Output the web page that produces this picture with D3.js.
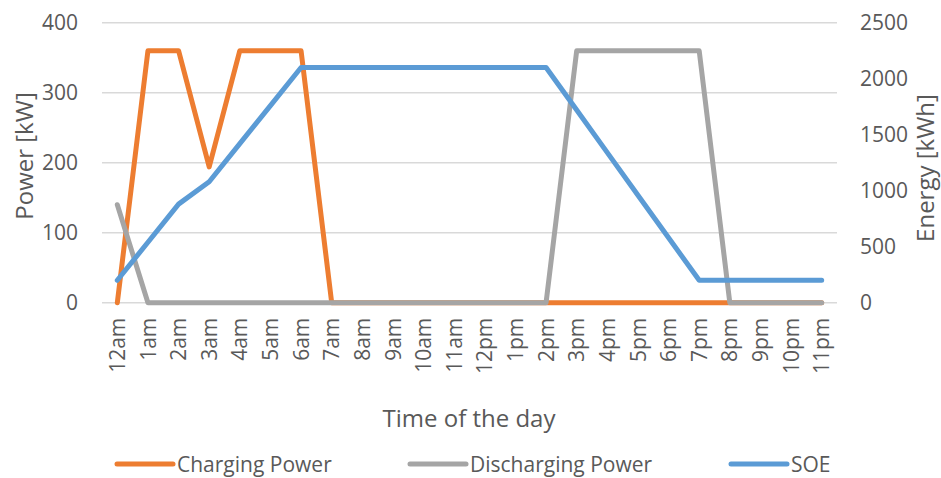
<!DOCTYPE html>
<html>
<head>
<meta charset="utf-8">
<script src="https://cdn.jsdelivr.net/npm/d3@7/dist/d3.min.js"></script>
<style>
  html, body { margin: 0; padding: 0; background: #fff; }
  svg { display: block; font-family: "Open Sans", "Noto Sans", sans-serif; }
</style>
</head>
<body>
<svg id="chart" width="941" height="478"></svg>
<script>
// Hourly battery schedule over one day
const hours = ["12am","1am","2am","3am","4am","5am","6am","7am","8am","9am","10am","11am",
               "12pm","1pm","2pm","3pm","4pm","5pm","6pm","7pm","8pm","9pm","10pm","11pm"];

// Power in kW (left axis)
const chargingPower    = [0,360,360,194,360,360,360,0,0,0,0,0,0,0,0,0,0,0,0,0,0,0,0,0];
const dischargingPower = [140,0,0,0,0,0,0,0,0,0,0,0,0,0,0,360,360,360,360,360,0,0,0,0];

// State of energy in kWh (right axis)
const soe = [200,540,880,1080,1420,1760,2100,2100,2100,2100,2100,2100,
             2100,2100,2100,1720,1340,960,580,200,200,200,200,200];

const powerTicks  = [0,100,200,300,400];
const energyTicks = [0,500,1000,1500,2000,2500];

const seriesInfo = [
  { name: "Charging Power",    values: chargingPower,    color: "#ED7D31", axis: "left"  },
  { name: "Discharging Power", values: dischargingPower, color: "#A5A5A5", axis: "left"  },
  { name: "SOE",               values: soe,              color: "#5B9BD5", axis: "right" }
];

const svg = d3.select("#chart");
const plot = { left: 102, right: 837, top: 22.7, bottom: 302.7 };
const textColor = "#595959";

const x = d3.scaleBand().domain(hours).range([plot.left, plot.right]);
const xc = d => x(d) + x.bandwidth() / 2;
const yPower  = d3.scaleLinear().domain([0, 400]).range([plot.bottom, plot.top]);
const yEnergy = d3.scaleLinear().domain([0, 2500]).range([plot.bottom, plot.top]);

// Horizontal gridlines
svg.append("g")
  .selectAll("line")
  .data(powerTicks)
  .join("line")
  .attr("x1", plot.left).attr("x2", plot.right)
  .attr("y1", d => yPower(d)).attr("y2", d => yPower(d))
  .attr("stroke", "#D9D9D9").attr("stroke-width", 1.5);

// Left axis
const leftAxis = svg.append("g")
  .attr("transform", `translate(${plot.left},0)`)
  .call(d3.axisLeft(yPower).tickValues(powerTicks).tickFormat(d3.format("d"))
    .tickSize(0).tickPadding(24));
leftAxis.select(".domain").remove();
leftAxis.selectAll("text").attr("font-size", 21).attr("fill", textColor)
  .attr("font-family", "Open Sans");

// Right axis
const rightAxis = svg.append("g")
  .attr("transform", `translate(${plot.right},0)`)
  .call(d3.axisRight(yEnergy).tickValues(energyTicks).tickFormat(d3.format("d"))
    .tickSize(0).tickPadding(23));
rightAxis.select(".domain").remove();
rightAxis.selectAll("text").attr("font-size", 21).attr("fill", textColor)
  .attr("font-family", "Open Sans");

// Bottom axis with vertical hour labels
const bottomAxis = svg.append("g")
  .attr("transform", `translate(0,${plot.bottom})`)
  .call(d3.axisBottom(x).tickSize(0));
bottomAxis.select(".domain").remove();
bottomAxis.selectAll("text")
  .attr("font-size", 21).attr("fill", textColor).attr("font-family", "Open Sans")
  .attr("transform", "rotate(-90)")
  .attr("text-anchor", "end")
  .attr("x", -15).attr("y", 0).attr("dy", "0.36em");

// Series lines
const lineFor = s => d3.line()
  .x((d, i) => xc(hours[i]))
  .y(d => (s.axis === "left" ? yPower : yEnergy)(d));

svg.append("g")
  .selectAll("path")
  .data(seriesInfo)
  .join("path")
  .attr("d", s => lineFor(s)(s.values))
  .attr("fill", "none")
  .attr("stroke", s => s.color)
  .attr("stroke-width", 5)
  .attr("stroke-linejoin", "round")
  .attr("stroke-linecap", "round");

// Axis titles
svg.append("text")
  .attr("transform", "translate(33,156) rotate(-90)")
  .attr("text-anchor", "middle")
  .attr("font-size", 24).attr("fill", textColor)
  .text("Power [kW]");

svg.append("text")
  .attr("transform", "translate(934,168) rotate(-90)")
  .attr("text-anchor", "middle")
  .attr("font-size", 24).attr("fill", textColor)
  .text("Energy [kWh]");

svg.append("text")
  .attr("x", 469).attr("y", 426.5)
  .attr("text-anchor", "middle")
  .attr("font-size", 24).attr("fill", textColor)
  .text("Time of the day");

// Legend
const legendPos = [117, 410, 731];
const legend = svg.append("g")
  .selectAll("g")
  .data(seriesInfo)
  .join("g")
  .attr("transform", (d, i) => `translate(${legendPos[i]},464)`);
legend.append("line")
  .attr("x1", 0).attr("x2", 56).attr("y1", 0).attr("y2", 0)
  .attr("stroke", d => d.color).attr("stroke-width", 5)
  .attr("stroke-linecap", "round");
legend.append("text")
  .attr("x", 60).attr("y", 8)
  .attr("font-size", 21).attr("fill", textColor)
  .text(d => d.name);
</script>
</body>
</html>
